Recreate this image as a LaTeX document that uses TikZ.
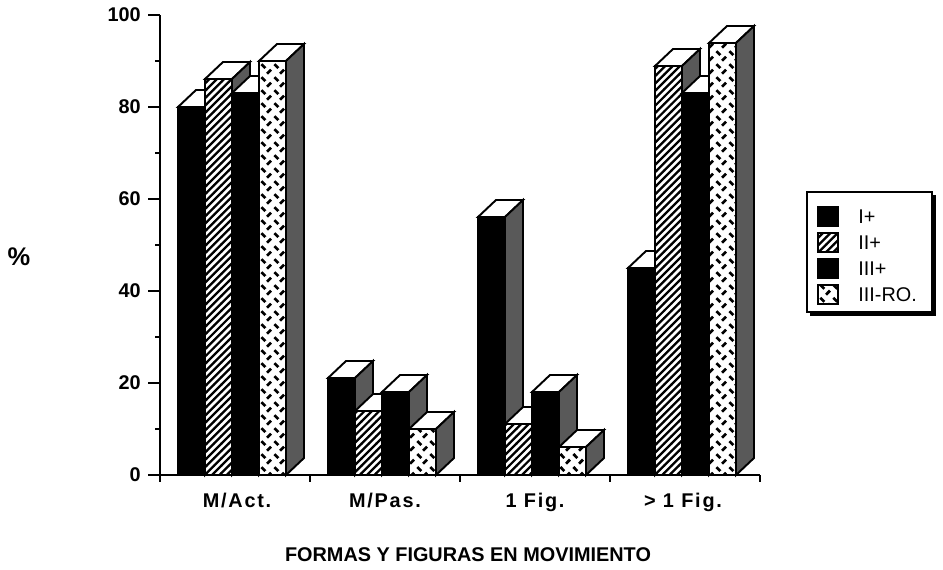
\documentclass[tikz,border=0pt]{standalone}
\usepackage{fontspec}
\setmainfont{Liberation Sans}
\newfontfamily\spacedfont[LetterSpace=9]{Liberation Sans}
\usepackage{tikz}
\usetikzlibrary{patterns}

\pgfdeclarepatternformonly{widehatch}{\pgfqpoint{-1pt}{-1pt}}{\pgfqpoint{5.2pt}{5.2pt}}{\pgfqpoint{4.2pt}{4.2pt}}{%
\pgfsetlinewidth{1.3pt}
\pgfpathmoveto{\pgfqpoint{-0.1pt}{-0.1pt}}
\pgfpathlineto{\pgfqpoint{4.3pt}{4.3pt}}
\pgfusepath{stroke}}

\pgfdeclarepatternformonly{zigdash}{\pgfqpoint{0pt}{0pt}}{\pgfqpoint{7.4pt}{7.4pt}}{\pgfqpoint{7.4pt}{7.4pt}}{%
\pgfsetlinewidth{1.6pt}
\pgfpathmoveto{\pgfqpoint{0.8pt}{6.6pt}}
\pgfpathlineto{\pgfqpoint{3.2pt}{4.2pt}}
\pgfpathmoveto{\pgfqpoint{4.2pt}{0.8pt}}
\pgfpathlineto{\pgfqpoint{6.6pt}{3.2pt}}
\pgfusepath{stroke}}

\begin{document}
\begin{tikzpicture}[x=0.02cm, y=0.02cm]
\tikzstyle{every node}+=[inner sep=0pt, font=\fontsize{11.3}{13}\selectfont\bfseries]
\tikzstyle{solidbar}=[draw=black, fill=black, line width=1.1pt]
\tikzstyle{hatchbar}=[draw=black, preaction={fill=white}, pattern=widehatch, line width=1.1pt]
\tikzstyle{dashbar}=[draw=black, preaction={fill=white}, pattern=zigdash, line width=1.1pt]
\tikzstyle{topface}=[draw=black, fill=white, line width=1.1pt]
\tikzstyle{sideface}=[draw=black, fill=black!65, line width=1.1pt]
\tikzstyle{catlabel}=[anchor=base, font=\fontsize{11.3}{13}\selectfont\spacedfont\bfseries]
\tikzstyle{legendtext}=[anchor=west, font=\fontsize{11.3}{13}\selectfont]
\useasboundingbox (0,0) rectangle (943,-569);
\draw [solidbar] (178,-475) rectangle (205,-107);
\draw [topface] (178,-107) -- (205,-107) -- (223,-90) -- (196,-90) -- cycle;
\draw [sideface] (205,-475) -- (205,-107) -- (223,-90) -- (223,-458) -- cycle;
\draw [hatchbar] (205,-475) rectangle (232,-79);
\draw [topface] (205,-79) -- (232,-79) -- (250,-62) -- (223,-62) -- cycle;
\draw [sideface] (232,-475) -- (232,-79) -- (250,-62) -- (250,-458) -- cycle;
\draw [solidbar] (232,-475) rectangle (259,-93);
\draw [topface] (232,-93) -- (259,-93) -- (277,-76) -- (250,-76) -- cycle;
\draw [sideface] (259,-475) -- (259,-93) -- (277,-76) -- (277,-458) -- cycle;
\draw [dashbar] (259,-475) rectangle (286,-61);
\draw [topface] (259,-61) -- (286,-61) -- (304,-44) -- (277,-44) -- cycle;
\draw [sideface] (286,-475) -- (286,-61) -- (304,-44) -- (304,-458) -- cycle;
\draw [solidbar] (328,-475) rectangle (355,-378);
\draw [topface] (328,-378) -- (355,-378) -- (373,-361) -- (346,-361) -- cycle;
\draw [sideface] (355,-475) -- (355,-378) -- (373,-361) -- (373,-458) -- cycle;
\draw [hatchbar] (355,-475) rectangle (382,-411);
\draw [topface] (355,-411) -- (382,-411) -- (400,-394) -- (373,-394) -- cycle;
\draw [sideface] (382,-475) -- (382,-411) -- (400,-394) -- (400,-458) -- cycle;
\draw [solidbar] (382,-475) rectangle (409,-392);
\draw [topface] (382,-392) -- (409,-392) -- (427,-375) -- (400,-375) -- cycle;
\draw [sideface] (409,-475) -- (409,-392) -- (427,-375) -- (427,-458) -- cycle;
\draw [dashbar] (409,-475) rectangle (436,-429);
\draw [topface] (409,-429) -- (436,-429) -- (454,-412) -- (427,-412) -- cycle;
\draw [sideface] (436,-475) -- (436,-429) -- (454,-412) -- (454,-458) -- cycle;
\draw [solidbar] (478,-475) rectangle (505,-217);
\draw [topface] (478,-217) -- (505,-217) -- (523,-200) -- (496,-200) -- cycle;
\draw [sideface] (505,-475) -- (505,-217) -- (523,-200) -- (523,-458) -- cycle;
\draw [hatchbar] (505,-475) rectangle (532,-424);
\draw [topface] (505,-424) -- (532,-424) -- (550,-407) -- (523,-407) -- cycle;
\draw [sideface] (532,-475) -- (532,-424) -- (550,-407) -- (550,-458) -- cycle;
\draw [solidbar] (532,-475) rectangle (559,-392);
\draw [topface] (532,-392) -- (559,-392) -- (577,-375) -- (550,-375) -- cycle;
\draw [sideface] (559,-475) -- (559,-392) -- (577,-375) -- (577,-458) -- cycle;
\draw [dashbar] (559,-475) rectangle (586,-447);
\draw [topface] (559,-447) -- (586,-447) -- (604,-430) -- (577,-430) -- cycle;
\draw [sideface] (586,-475) -- (586,-447) -- (604,-430) -- (604,-458) -- cycle;
\draw [solidbar] (628,-475) rectangle (655,-268);
\draw [topface] (628,-268) -- (655,-268) -- (673,-251) -- (646,-251) -- cycle;
\draw [sideface] (655,-475) -- (655,-268) -- (673,-251) -- (673,-458) -- cycle;
\draw [hatchbar] (655,-475) rectangle (682,-66);
\draw [topface] (655,-66) -- (682,-66) -- (700,-49) -- (673,-49) -- cycle;
\draw [sideface] (682,-475) -- (682,-66) -- (700,-49) -- (700,-458) -- cycle;
\draw [solidbar] (682,-475) rectangle (709,-93);
\draw [topface] (682,-93) -- (709,-93) -- (727,-76) -- (700,-76) -- cycle;
\draw [sideface] (709,-475) -- (709,-93) -- (727,-76) -- (727,-458) -- cycle;
\draw [dashbar] (709,-475) rectangle (736,-43);
\draw [topface] (709,-43) -- (736,-43) -- (754,-26) -- (727,-26) -- cycle;
\draw [sideface] (736,-475) -- (736,-43) -- (754,-26) -- (754,-458) -- cycle;
\draw [black, line width=1.3pt] (160,-15) -- (160,-475) -- (760,-475);
\draw [black, line width=1.3pt] (148,-475) -- (160,-475);
\draw [black, line width=1.3pt] (148,-383) -- (160,-383);
\draw [black, line width=1.3pt] (148,-291) -- (160,-291);
\draw [black, line width=1.3pt] (148,-199) -- (160,-199);
\draw [black, line width=1.3pt] (148,-107) -- (160,-107);
\draw [black, line width=1.3pt] (148,-15) -- (160,-15);
\draw [black, line width=1.3pt] (155,-429) -- (160,-429);
\draw [black, line width=1.3pt] (155,-337) -- (160,-337);
\draw [black, line width=1.3pt] (155,-245) -- (160,-245);
\draw [black, line width=1.3pt] (155,-153) -- (160,-153);
\draw [black, line width=1.3pt] (155,-61) -- (160,-61);
\draw [black, line width=1.3pt] (160,-475) -- (160,-482);
\draw [black, line width=1.3pt] (310,-475) -- (310,-482);
\draw [black, line width=1.3pt] (460,-475) -- (460,-482);
\draw [black, line width=1.3pt] (610,-475) -- (610,-482);
\draw [black, line width=1.3pt] (760,-475) -- (760,-482);
\node [anchor=east] (y0) at (141,-475) {0};
\node [anchor=east] (y20) at (141,-383) {20};
\node [anchor=east] (y40) at (141,-291) {40};
\node [anchor=east] (y60) at (141,-199) {60};
\node [anchor=east] (y80) at (141,-107) {80};
\node [anchor=east] (y100) at (141,-15) {100};
\node [font=\fontsize{14.5}{16}\selectfont\bfseries] (pct) at (19,-257) {\%};
\node [catlabel] (mact) at (237,-507) {M/Act.};
\node [catlabel] (mpas) at (385,-507) {M/Pas.};
\node [catlabel] (onefig) at (535,-507) {1 Fig.};
\node [catlabel] (morefig) at (683,-507) {> 1 Fig.};
\node (title) at (468,-555) {FORMAS Y FIGURAS EN MOVIMIENTO};
\fill [black] (810,-195) rectangle (936,-316);
\draw [black, line width=1.2pt, fill=white] (807,-192) rectangle (932,-312);
\draw [solidbar] (818,-207) rectangle (838,-226);
\draw [hatchbar] (818,-233) rectangle (838,-252);
\draw [solidbar] (818,-259) rectangle (838,-278);
\draw [dashbar] (818,-285) rectangle (838,-304);
\node [legendtext] (lone) at (858,-217) {I+};
\node [legendtext] (ltwo) at (858,-243) {II+};
\node [legendtext] (lthree) at (858,-269) {III+};
\node [legendtext] (lro) at (858,-295) {III-RO.};
\end{tikzpicture}
\end{document}
